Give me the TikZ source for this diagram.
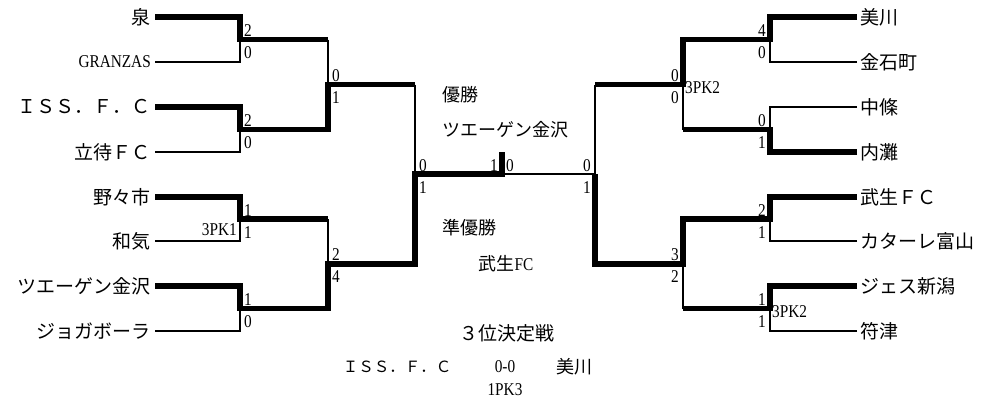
\documentclass[tikz,border=0pt]{standalone}
\usepackage{fontspec}
\setmainfont{Liberation Serif}
\newfontfamily\jp{Noto Sans CJK JP}
\newfontfamily\numfont[FakeStretch=0.85]{Liberation Serif}

\begin{document}
\begin{tikzpicture}[x=1pt,y=-1pt,line join=miter,
  team node/.style={inner xsep=4pt,inner ysep=0pt,font=\jp\fontsize{19}{21}\selectfont},
  win line/.style={line width=5.5pt},
  lose line/.style={line width=1.6pt},
  score node/.style={inner sep=0pt,font=\numfont\fontsize{18}{20}\selectfont},
  left up/.style={score node,anchor=base west,xshift=4pt,yshift=3pt},
  left down/.style={score node,anchor=base west,xshift=4pt,yshift=-19pt},
  right up/.style={score node,anchor=base east,xshift=-4pt,yshift=3pt},
  right down/.style={score node,anchor=base east,xshift=-4pt,yshift=-19pt},
  center text/.style={inner sep=0pt,font=\jp\fontsize{18}{20}\selectfont}]
\useasboundingbox (0,0) rectangle (984,405);

% junctions
  \coordinate (L1) at (240,39.5);
  \coordinate (L2) at (240,129.5);
  \coordinate (L3) at (240,219);
  \coordinate (L4) at (240,308.5);
  \coordinate (L12) at (328,84.5);
  \coordinate (L34) at (328,263.75);
  \coordinate (LS) at (415,174);
  \coordinate (C) at (502,174);
  \coordinate (ct) at (502,152);
  \coordinate (RS) at (595,174);
  \coordinate (R12) at (683,84.5);
  \coordinate (R34) at (683,263.75);
  \coordinate (R1) at (770,39.5);
  \coordinate (R2) at (770,129.5);
  \coordinate (R3) at (770,219);
  \coordinate (R4) at (770,308.5);

% left block
  \node[team node,anchor=east] (izumi) at (155,17) {泉};
  \node[team node,anchor=east,font=\numfont\fontsize{18}{20}\selectfont] (granzas) at (155,62) {GRANZAS};
  \node[team node,anchor=east] (iss) at (155,107) {ＩＳＳ．Ｆ．Ｃ};
  \node[team node,anchor=east] (tatemachi) at (155,152) {立待ＦＣ};
  \node[team node,anchor=east] (nonoichi) at (155,197) {野々市};
  \node[team node,anchor=east] (wake) at (155,241) {和気};
  \node[team node,anchor=east] (zweigen) at (155,286) {ツエーゲン金沢};
  \node[team node,anchor=east] (jogabola) at (155,331) {ジョガボーラ};

  \draw[lose line] (granzas.east) -| (L1);
  \draw[lose line] (tatemachi.east) -| (L2);
  \draw[lose line] (wake.east) -| (L3);
  \draw[lose line] (jogabola.east) -| (L4);
  \draw[lose line] (L1 -| L12) -- (L12);
  \draw[lose line] (L3 -| L34) -- (L34);
  \draw[lose line] (L12 -| LS) -- (LS);

  \draw[win line] (izumi.east) -| (L1) -- (L1 -| L12);
  \draw[win line] (iss.east) -| (L2) -| (L12) -- (L12 -| LS);
  \draw[win line] (nonoichi.east) -| (L3) -- (L3 -| L34);
  \draw[win line] (zweigen.east) -| (L4) -| (L34) -| (LS) -| (ct);

% right block
  \node[team node,anchor=west,inner xsep=3pt] (mikawa) at (857,17) {美川};
  \node[team node,anchor=west,inner xsep=3pt] (kanaiwa) at (857,62) {金石町};
  \node[team node,anchor=west,inner xsep=3pt] (nakajo) at (857,107) {中條};
  \node[team node,anchor=west,inner xsep=3pt] (uchinada) at (857,152) {内灘};
  \node[team node,anchor=west,inner xsep=3pt] (takefu) at (857,197) {武生ＦＣ};
  \node[team node,anchor=west,inner xsep=3pt] (kataller) at (857,241) {カターレ富山};
  \node[team node,anchor=west,inner xsep=3pt] (jes) at (857,286) {ジェス新潟};
  \node[team node,anchor=west,inner xsep=3pt] (futsu) at (857,331) {符津};

  \draw[lose line] (kanaiwa.west) -| (R1);
  \draw[lose line] (nakajo.west) -| (R2);
  \draw[lose line] (kataller.west) -| (R3);
  \draw[lose line] (futsu.west) -| (R4);
  \draw[lose line] (R2 -| R12) -- (R12);
  \draw[lose line] (R4 -| R34) -- (R34);
  \draw[lose line] (R12 -| RS) -- (RS) -- (C);

  \draw[win line] (mikawa.west) -| (R1) -| (R12) -- (R12 -| RS);
  \draw[win line] (uchinada.west) -| (R2) -- (R2 -| R12);
  \draw[win line] (takefu.west) -| (R3) -| (R34) -| (RS);
  \draw[win line] (jes.west) -| (R4) -- (R4 -| R34);

% scores
  \node[left up] (s1a) at (L1) {2};
  \node[left down] (s1b) at (L1) {0};
  \node[left up] (s2a) at (L2) {2};
  \node[left down] (s2b) at (L2) {0};
  \node[left up] (s3a) at (L3) {1};
  \node[left down] (s3b) at (L3) {1};
  \node[score node,anchor=base east,xshift=-3pt,yshift=-16pt] (pk3) at (L3) {3PK1};
  \node[left up] (s4a) at (L4) {1};
  \node[left down] (s4b) at (L4) {0};
  \node[left up] (s12a) at (L12) {0};
  \node[left down] (s12b) at (L12) {1};
  \node[left up] (s34a) at (L34) {2};
  \node[left down] (s34b) at (L34) {4};
  \node[left up] (sLa) at (LS) {0};
  \node[left down] (sLb) at (LS) {1};

  \node[right up] (fa) at (C) {1};
  \node[left up] (fb) at (C) {0};

  \node[right up] (sRa) at (RS) {0};
  \node[right down] (sRb) at (RS) {1};
  \node[right up] (r12a) at (R12) {0};
  \node[right down] (r12b) at (R12) {0};
  \node[score node,anchor=base west,xshift=2pt,yshift=-8.5pt] (pk12) at (R12) {3PK2};
  \node[right up] (r34a) at (R34) {3};
  \node[right down] (r34b) at (R34) {2};
  \node[right up] (r1a) at (R1) {4};
  \node[right down] (r1b) at (R1) {0};
  \node[right up] (r2a) at (R2) {0};
  \node[right down] (r2b) at (R2) {1};
  \node[right up] (r3a) at (R3) {2};
  \node[right down] (r3b) at (R3) {1};
  \node[right up] (r4a) at (R4) {1};
  \node[right down] (r4b) at (R4) {1};
  \node[score node,anchor=base west,xshift=2pt,yshift=-8.5pt] (pk4) at (R4) {3PK2};

% results
  \node[center text,anchor=west] (champlabel) at (442,95) {優勝};
  \node[center text,anchor=west] (champ) at (442,130) {ツエーゲン金沢};
  \node[center text,anchor=west] (runnerlabel) at (442,228) {準優勝};
  \node[center text] (runner) at (506,264) {武生{\numfont FC}};
  \node[center text,font=\jp\fontsize{19}{21}\selectfont] (thirdlabel) at (507,333) {３位決定戦};
  \node[center text,font=\jp\fontsize{15.5}{17}\selectfont] (third1) at (397,367) {ＩＳＳ．Ｆ．Ｃ};
  \node[score node] (thirdscore) at (505,367) {0-0};
  \node[center text] (third2) at (574,367) {美川};
  \node[score node,node distance=23pt] (thirdpk) [below of=thirdscore] {1PK3};

\end{tikzpicture}
\end{document}
